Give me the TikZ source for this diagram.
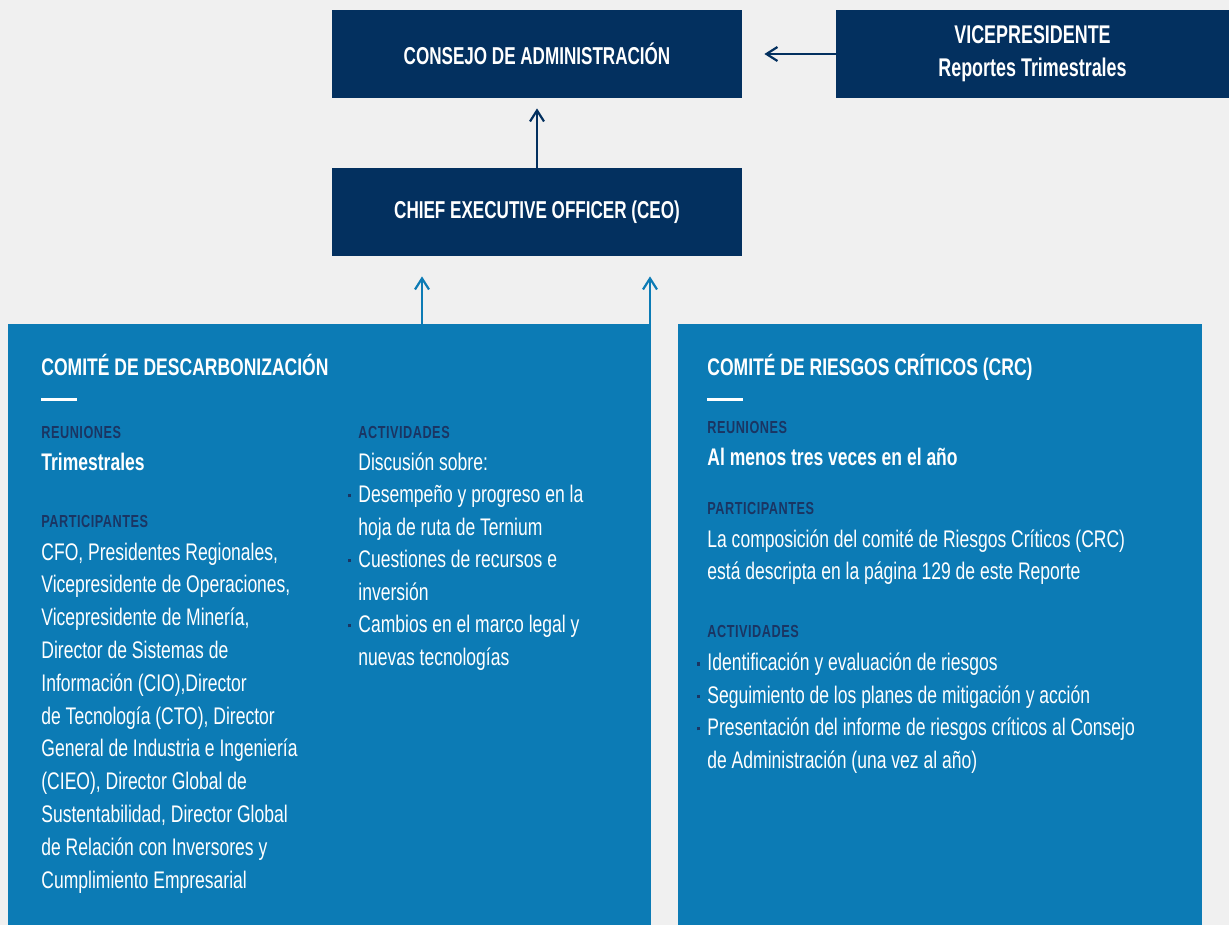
\documentclass[tikz,border=0pt]{standalone}
\usepackage{fontspec}
\setmainfont[FakeStretch=0.73]{Liberation Sans}
\newfontfamily\lblfont[FakeStretch=0.73,LetterSpace=3]{Liberation Sans}
\newfontfamily\boxfont[FakeStretch=0.70]{Liberation Sans}
\usetikzlibrary{arrows.meta}
\definecolor{navy}{HTML}{03305F}
\definecolor{cblue}{HTML}{0C7BB5}
\definecolor{lbl}{HTML}{1A3563}
\definecolor{bgc}{HTML}{F0F0F0}
\newcommand\mybul{\llap{\textcolor{lbl}{\rule[2.6pt]{1.7pt}{1.7pt}}\hspace{3.6pt}}}
\tikzset{
  navybox/.style={fill=navy, draw=none, text=white, font=\boxfont\fontsize{12.2}{16.5}\selectfont\bfseries, align=center, inner sep=0pt, minimum height=44pt},
  bluebox/.style={fill=cblue, draw=none, inner sep=0pt},
  title/.style={anchor=base west, inner sep=0pt, text=white, font=\fontsize{12}{16}\selectfont\bfseries},
  label/.style={anchor=base west, inner sep=0pt, text=lbl, font=\lblfont\fontsize{8.7}{10}\selectfont\bfseries},
  bodyb/.style={anchor=base west, inner sep=0pt, text=white, font=\fontsize{12}{16.4}\selectfont\bfseries},
  body/.style={anchor=base west, inner sep=0pt, text=white, align=left},
  arr/.style={line width=1pt, -{Straight Barb[length=5.5pt,width=7pt,line width=1.1pt]}},
  whitedash/.style={white, line width=1.5pt}
}
\begin{document}
\begin{tikzpicture}[x=0.5pt,y=-0.5pt]
\fill[bgc] (0,0) rectangle (1229,925);
\useasboundingbox (0,0) rectangle (1229,925);

% top boxes
\node[navybox, minimum width=205pt] (consejo) at (537,54) {CONSEJO DE ADMINISTRACIÓN};
\node[navybox, minimum width=196.5pt, font=\boxfont\fontsize{12.8}{16.5}\selectfont\bfseries] (vp) at (1032.5,54) {VICEPRESIDENTE\\Reportes Trimestrales};
\node[navybox, minimum width=205pt] (ceo) at (537,212) {CHIEF EXECUTIVE OFFICER (CEO)};

% committee boxes
\node[bluebox, minimum width=321.5pt, minimum height=300.5pt] (desc) at (329.5,624.5) {};
\node[bluebox, minimum width=262pt, minimum height=300.5pt] (crc) at (940,624.5) {};

% connectors
\draw[arr, navy, shorten >=5pt] (ceo.north) -- (consejo.south);
\draw[arr, navy, shorten >=11pt] (vp.west) -- (consejo.east);
\coordinate (a1) at (422,0);
\coordinate (a2) at (650,0);
\draw[arr, cblue, shorten >=10pt] (desc.north -| a1) -- (ceo.south -| a1);
\draw[arr, cblue, shorten >=10pt] (desc.north -| a2) -- (ceo.south -| a2);

% left committee text (multi-line nodes are anchored at the baseline of their last line)
\node[title] (t1) at (41,375) {COMITÉ DE DESCARBONIZACIÓN};
\coordinate (d1a) at (41,399);
\coordinate (d1b) at (77,399);
\draw[whitedash] (d1a) -- (d1b);
\node[label] (r1) at (41,438) {REUNIONES};
\node[bodyb] (r1t) at (41,470) {Trimestrales};
\node[label] (p1) at (41,527) {PARTICIPANTES};
\node[body, font=\fontsize{12}{16.4}\selectfont] (p1t) at (41,888) {CFO, Presidentes Regionales,\\
Vicepresidente de Operaciones,\\
Vicepresidente de Minería,\\
Director de Sistemas de\\
Información (CIO),Director\\
de Tecnología (CTO), Director\\
General de Industria e Ingeniería\\
(CIEO), Director Global de\\
Sustentabilidad, Director Global\\
de Relación con Inversores y\\
Cumplimiento Empresarial};
\node[label] (ac1) at (358,438) {ACTIVIDADES};
\node[body, font=\fontsize{12}{16.25}\selectfont] (ac1t) at (358,665) {Discusión sobre:\\
\mybul Desempeño y progreso en la\\
hoja de ruta de Ternium\\
\mybul Cuestiones de recursos e\\
inversión\\
\mybul Cambios en el marco legal y\\
nuevas tecnologías};

% right committee text
\node[title] (t2) at (707,375) {COMITÉ DE RIESGOS CRÍTICOS (CRC)};
\coordinate (d2a) at (707,399);
\coordinate (d2b) at (743,399);
\draw[whitedash] (d2a) -- (d2b);
\node[label] (r2) at (707,433) {REUNIONES};
\node[bodyb] (r2t) at (707,465) {Al menos tres veces en el año};
\node[label] (p2) at (707,514) {PARTICIPANTES};
\node[body, font=\fontsize{12}{15.75}\selectfont] (p2t) at (707,579) {La composición del comité de Riesgos Críticos (CRC)\\
está descripta en la página 129 de este Reporte};
\node[label] (ac2) at (707,637) {ACTIVIDADES};
\node[body, font=\fontsize{12}{16.17}\selectfont] (ac2t) at (707,768) {\mybul Identificación y evaluación de riesgos\\
\mybul Seguimiento de los planes de mitigación y acción\\
\mybul Presentación del informe de riesgos críticos al Consejo\\
de Administración (una vez al año)};
\end{tikzpicture}
\end{document}
